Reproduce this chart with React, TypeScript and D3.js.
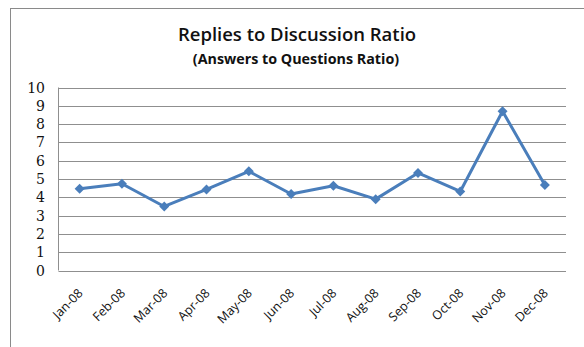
import React from "react";
import * as d3 from "d3";

const months = ["Jan-08", "Feb-08", "Mar-08", "Apr-08", "May-08", "Jun-08", "Jul-08", "Aug-08", "Sep-08", "Oct-08", "Nov-08", "Dec-08"];
const ratios = [4.47, 4.74, 3.5, 4.43, 5.42, 4.18, 4.63, 3.9, 5.33, 4.32, 8.7, 4.67];
const yTicks = [0, 1, 2, 3, 4, 5, 6, 7, 8, 9, 10];
const title = "Replies to Discussion Ratio";
const subtitle = "(Answers to Questions Ratio)";

const W = 584;
const H = 347;
const plot = { left: 58.5, right: 566, top: 87.5, bottom: 270.5 };

// square diamond marker, half-diagonal r
const diamondPath = (r: number) => `M0,${-r}L${r},0L0,${r}L${-r},0Z`;

export default function App() {
  const x = d3.scaleBand<string>().domain(months).range([plot.left, plot.right]);
  const y = d3.scaleLinear().domain([0, 10]).range([plot.bottom, plot.top]);
  const cx = (m: string) => (x(m) ?? 0) + x.bandwidth() / 2;

  const line = d3
    .line<number>()
    .x((_, i) => cx(months[i]))
    .y((d) => y(d));

  const blue = "#4a7ebb";

  return (
    <svg
      width={W}
      height={H}
      style={{ position: "absolute", left: 0, top: 0, background: "#fff" }}
    >
      <rect x={10.5} y={8.5} width={700} height={500} fill="#fff" stroke="#8a8a8a" strokeWidth={1} />

      <text x={297} y={41} textAnchor="middle" fontFamily="'Open Sans', sans-serif" fontWeight={600} fontSize={18.5} fill="#111">
        {title}
      </text>
      <text x={296} y={64} textAnchor="middle" fontFamily="'Open Sans', sans-serif" fontWeight={700} fontSize={14.3} fill="#111">
        {subtitle}
      </text>

      {yTicks.map((t) => (
        <g key={t}>
          <line
            x1={plot.left}
            x2={plot.right}
            y1={Math.round(y(t)) + 0.5}
            y2={Math.round(y(t)) + 0.5}
            stroke="#8f8f8f"
            strokeWidth={1}
          />
          <text
            x={45}
            y={y(t)}
            dy="0.36em"
            textAnchor="end"
            fontFamily="'DejaVu Serif', serif"
            fontSize={14}
            fill="#111"
          >
            {t}
          </text>
        </g>
      ))}
      <line x1={plot.left} x2={plot.left} y1={plot.top} y2={plot.bottom} stroke="#8f8f8f" strokeWidth={1} />

      {months.map((m) => (
        <text
          key={m}
          transform={`translate(${cx(m) + 4},294) rotate(-45)`}
          textAnchor="end"
          fontFamily="'Open Sans', sans-serif"
          fontSize={12.5}
          fill="#111"
        >
          {m}
        </text>
      ))}

      <path d={line(ratios) ?? ""} fill="none" stroke={blue} strokeWidth={3} strokeLinejoin="round" />
      {ratios.map((v, i) => (
        <path key={months[i]} d={diamondPath(5)} transform={`translate(${cx(months[i])},${y(v)})`} fill={blue} />
      ))}
    </svg>
  );
}
